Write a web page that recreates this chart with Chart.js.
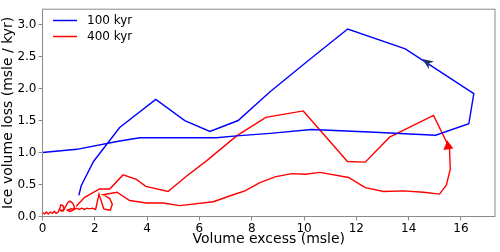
<!DOCTYPE html>
<html>
<head>
<meta charset="utf-8">
<script src="https://cdn.jsdelivr.net/npm/chart.js@4/dist/chart.umd.min.js"></script>
<style>
  html, body { margin: 0; padding: 0; background: #fff; }
  #wrap { width: 500px; height: 252px; }
</style>
</head>
<body>
<div id="wrap"><canvas id="loop-chart" width="500" height="252"></canvas></div>
<script>
// 100 kyr loop
const blueX = [0, 1.31, 2.95, 3.72, 5.2, 6.65, 7.42, 8.7, 10.29, 12.5, 15.03, 16.3, 16.49, 13.87, 11.67, 10.2, 8.7, 7.48, 6.4, 5.44, 4.33, 2.95, 1.95, 1.48, 1.39];
const blueY = [1.0, 1.05, 1.18, 1.23, 1.23, 1.23, 1.26, 1.30, 1.36, 1.32, 1.27, 1.45, 1.92, 2.62, 2.93, 2.45, 1.95, 1.50, 1.33, 1.50, 1.83, 1.39, 0.86, 0.48, 0.33];

// 400 kyr loop
const redX = [0, 0.08, 0.15, 0.22, 0.3, 0.38, 0.45, 0.52, 0.6, 0.66, 0.7, 0.78, 0.82, 0.74, 0.68, 0.8, 0.9, 0.97, 1.05,
  1.15, 1.22, 1.17, 1.05, 0.95, 1.1, 1.2, 1.3, 1.4, 1.5, 1.6, 1.7, 1.8, 1.9, 2.03, 2.16, 2.34, 2.45, 2.59, 2.67,
  2.57, 2.38, 2.31, 2.85, 3.33, 3.97, 4.61, 5.25, 6.53, 7.29, 7.74, 8.31, 8.89, 9.53, 10.04, 10.61, 11.7, 12.34, 13.04, 13.8,
  14.57, 15.18, 15.44, 15.59, 15.56, 14.95, 13.27, 12.34, 11.66, 9.97, 8.54, 7.42, 6.27, 5.5, 4.8, 3.95, 3.59, 3.08, 2.57, 2.18,
  1.61, 1.29];
const redY = [0.06, 0.04, 0.07, 0.04, 0.07, 0.05, 0.08, 0.05, 0.07, 0.12, 0.18, 0.17, 0.12, 0.08, 0.10, 0.09, 0.17, 0.22, 0.24,
  0.21, 0.15, 0.10, 0.08, 0.10, 0.12, 0.11, 0.13, 0.11, 0.13, 0.11, 0.13, 0.12, 0.13, 0.11, 0.35, 0.12, 0.11, 0.10, 0.19,
  0.28, 0.33, 0.34, 0.38, 0.25, 0.21, 0.21, 0.17, 0.23, 0.34, 0.40, 0.53, 0.62, 0.67, 0.66, 0.69, 0.61, 0.45, 0.39, 0.40,
  0.38, 0.35, 0.49, 0.74, 1.07, 1.58, 1.24, 0.85, 0.86, 1.65, 1.55, 1.26, 0.87, 0.63, 0.39, 0.47, 0.58, 0.65, 0.43, 0.43,
  0.30, 0.16];

const xTicks = [0, 2, 4, 6, 8, 10, 12, 14, 16];
const yTicks = [0, 0.5, 1.0, 1.5, 2.0, 2.5, 3.0];

// direction arrows (tip position in data units, and the point the arrow comes from)
const arrows = [
  { tip: [14.52, 2.46], from: [16.49, 1.92], color: '#1c3366', len: 11, half: 4.5, notch: true },
  { tip: [15.47, 1.19], from: [15.53, 1.02], color: '#ff0000', len: 9, half: 5, notch: false }
];

const SPINE = '#8a8a8a';
const FONT = 'DejaVu Sans';

function toPoints(xs, ys) {
  return xs.map((x, i) => ({ x: x, y: ys[i] }));
}

const decorPlugin = {
  id: 'decor',
  afterDatasetsDraw(chart) {
    const { ctx, scales: { x, y } } = chart;
    arrows.forEach(a => {
      const tx = x.getPixelForValue(a.tip[0]), ty = y.getPixelForValue(a.tip[1]);
      const fx = x.getPixelForValue(a.from[0]), fy = y.getPixelForValue(a.from[1]);
      const ang = Math.atan2(ty - fy, tx - fx);
      ctx.save();
      ctx.translate(tx, ty);
      ctx.rotate(ang);
      ctx.beginPath();
      ctx.moveTo(0, 0);
      ctx.lineTo(-a.len, a.half);
      if (a.notch) ctx.lineTo(-a.len * 0.7, 0);
      ctx.lineTo(-a.len, -a.half);
      ctx.closePath();
      ctx.fillStyle = a.color;
      ctx.fill();
      ctx.restore();
    });
  },
  afterDraw(chart) {
    const { ctx, chartArea: ca } = chart;
    ctx.save();
    ctx.strokeStyle = SPINE;
    ctx.lineWidth = 1;
    ctx.strokeRect(ca.left, ca.top, ca.right - ca.left, ca.bottom - ca.top);

    // legend
    ctx.font = '12px "' + FONT + '"';
    ctx.textBaseline = 'middle';
    ctx.fillStyle = '#000';
    chart.data.datasets.forEach((ds, i) => {
      const ly = 20.5 + i * 16;
      ctx.beginPath();
      ctx.moveTo(53, ly);
      ctx.lineTo(77, ly);
      ctx.strokeStyle = ds.borderColor;
      ctx.lineWidth = 1.5;
      ctx.stroke();
      ctx.fillText(ds.label, 87, ly);
    });
    ctx.restore();
  }
};

new Chart(document.getElementById('loop-chart').getContext('2d'), {
  type: 'scatter',
  data: {
    datasets: [{
      label: '100 kyr',
      data: toPoints(blueX, blueY),
      borderColor: '#0000ff',
      showLine: true,
      borderWidth: 1.4,
      pointRadius: 0,
      tension: 0
    }, {
      label: '400 kyr',
      data: toPoints(redX, redY),
      borderColor: '#ff0000',
      showLine: true,
      borderWidth: 1.4,
      pointRadius: 0,
      tension: 0
    }]
  },
  options: {
    responsive: false,
    animation: false,
    layout: { padding: { top: 5, right: 5, left: 0, bottom: 0 } },
    plugins: { legend: { display: false }, tooltip: { enabled: false } },
    scales: {
      x: {
        type: 'linear',
        min: 0,
        max: 17.3,
        afterBuildTicks: s => { s.ticks = xTicks.map(v => ({ value: v })); },
        afterFit: s => { s.height = 35.5; },
        grid: { drawOnChartArea: false, drawTicks: true, tickLength: 4, tickColor: SPINE },
        border: { display: false },
        ticks: { color: '#000', font: { family: FONT, size: 12 }, padding: 1, maxRotation: 0, callback: v => String(v) },
        title: { display: true, text: 'Volume excess (msle)', color: '#000', font: { family: FONT, size: 14 }, padding: { top: 0, bottom: 4 } }
      },
      y: {
        type: 'linear',
        min: 0,
        max: 3.24,
        afterBuildTicks: s => { s.ticks = yTicks.map(v => ({ value: v })); },
        afterFit: s => { s.width = 42.5; },
        grid: { drawOnChartArea: false, drawTicks: true, tickLength: 4, tickColor: SPINE },
        border: { display: false },
        ticks: { color: '#000', font: { family: FONT, size: 12 }, padding: 2, callback: v => v.toFixed(1) },
        title: { display: true, text: 'Ice volume loss (msle / kyr)', color: '#000', font: { family: FONT, size: 14 }, padding: { top: 0, bottom: 0 } }
      }
    }
  },
  plugins: [decorPlugin]
});
</script>
</body>
</html>
